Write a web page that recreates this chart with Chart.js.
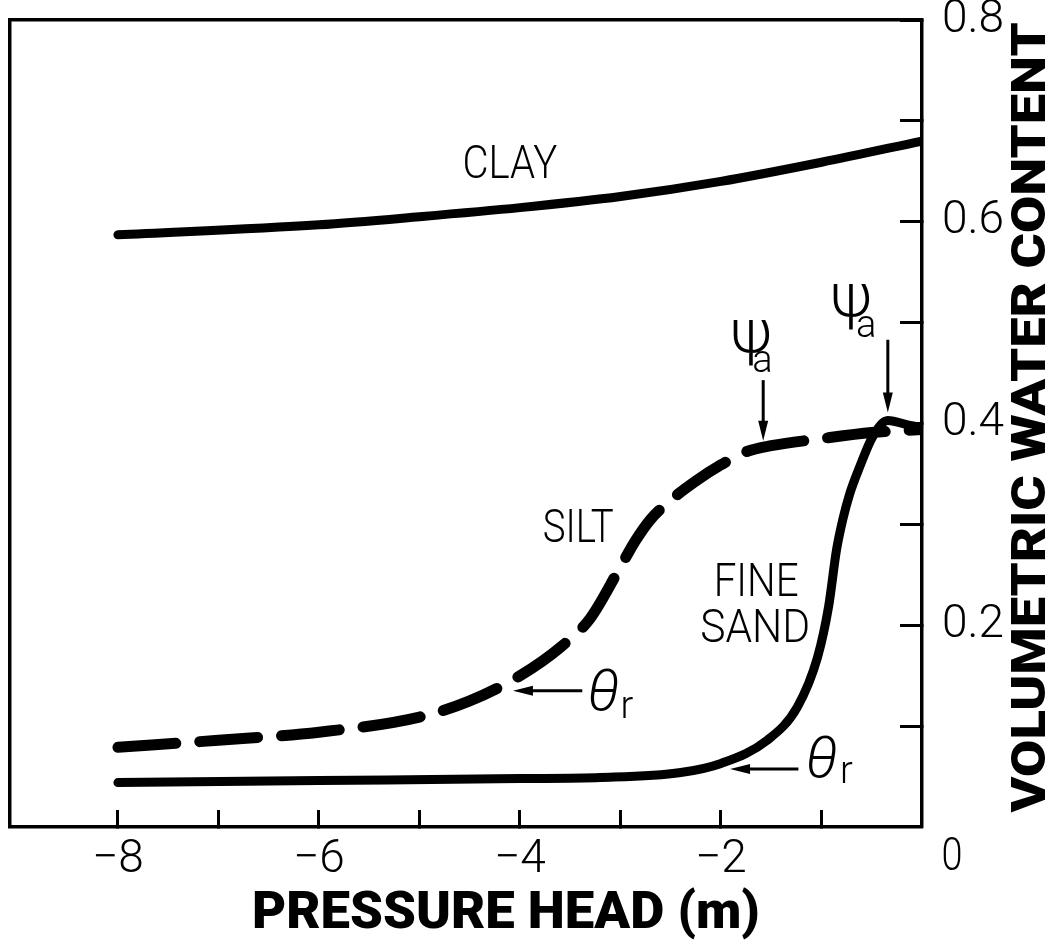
<!DOCTYPE html>
<html>
<head>
<meta charset="utf-8">
<title>Moisture retention curves</title>
<script src="https://cdn.jsdelivr.net/npm/chart.js@4.4.1/dist/chart.umd.min.js"></script>
<style>
  html, body { margin: 0; padding: 0; background: #fff; }
</style>
</head>
<body>
<canvas id="curves" width="1055" height="947"></canvas>
<script>
// pressure head (m) and volumetric water content
const clayHead = [-8, -6, -5, -4, -3, -2, -1, 0];
const clayTheta = [0.587, 0.597, 0.605, 0.614, 0.625, 0.640, 0.659, 0.680];

const siltHead = [-8, -7, -6, -5, -4.5, -4, -3.6, -3.3, -3, -2.85, -2.7, -2.5, -2.25, -2, -1.75, -1.5, -1, -0.5, 0];
const siltTheta = [0.079, 0.086, 0.094, 0.109, 0.125, 0.150, 0.178, 0.207, 0.258, 0.284, 0.305, 0.324, 0.343, 0.359, 0.372, 0.378, 0.385, 0.391, 0.394];

const sandHead = [-8, -6, -4, -3.2, -2.4, -2.0, -1.54, -1.24, -1.04, -0.93, -0.85, -0.79, -0.72, -0.62, -0.49, -0.34, -0.12, 0];
const sandTheta = [0.044, 0.046, 0.048, 0.049, 0.054, 0.063, 0.086, 0.119, 0.168, 0.218, 0.275, 0.304, 0.330, 0.357, 0.387, 0.403, 0.398, 0.396];

const xTickValues = [-8, -7, -6, -5, -4, -3, -2, -1];
const xTickLabels = ['−8', '', '−6', '', '−4', '', '−2', ''];
const yTickValues = [0.1, 0.2, 0.3, 0.4, 0.5, 0.6, 0.7, 0.8];
const yTickLabels = ['', '0.2', '', '0.4', '', '0.6', '', '0.8'];
const cornerLabel = '0';

const xTitle = 'PRESSURE HEAD (m)';
const yTitle = 'VOLUMETRIC WATER CONTENT';

const INK = '#000';
const LIGHT = '"Roboto", "Liberation Sans", sans-serif';
const HEAVY = '"Roboto", "DejaVu Sans", sans-serif';

function toPoints(xs, ys) {
  return xs.map((x, i) => ({ x: x, y: ys[i] }));
}

// draws a thin line ending in a filled arrow head at (x2, y2)
function drawArrow(ctx, x1, y1, x2, y2) {
  const a = Math.atan2(y2 - y1, x2 - x1);
  const len = 20, half = 5;
  ctx.lineWidth = 3;
  ctx.beginPath();
  ctx.moveTo(x1, y1);
  ctx.lineTo(x2 - len * 0.7 * Math.cos(a), y2 - len * 0.7 * Math.sin(a));
  ctx.stroke();
  ctx.beginPath();
  ctx.moveTo(x2, y2);
  ctx.lineTo(x2 - len * Math.cos(a) + half * Math.sin(a), y2 - len * Math.sin(a) - half * Math.cos(a));
  ctx.lineTo(x2 - len * Math.cos(a) - half * Math.sin(a), y2 - len * Math.sin(a) + half * Math.cos(a));
  ctx.closePath();
  ctx.fill();
}

// fill text stretched or squeezed to a given length
function fillFitted(ctx, text, x, y, length) {
  const w = ctx.measureText(text).width;
  ctx.save();
  ctx.translate(x, y);
  ctx.scale(length / w, 1);
  ctx.fillText(text, 0, 0);
  ctx.restore();
}

const notesPlugin = {
  id: 'curveNotes',
  afterDraw(chart) {
    const { ctx, chartArea } = chart;
    const px = v => chart.scales.x.getPixelForValue(v);
    const py = v => chart.scales.y.getPixelForValue(v);

    ctx.save();
    ctx.fillStyle = INK;
    ctx.strokeStyle = INK;

    // curve names
    ctx.font = '300 46px ' + LIGHT;
    ctx.textAlign = 'center';
    ctx.textBaseline = 'middle';
    fillFitted(ctx, 'CLAY', px(-4.10), py(0.655), 95);
    fillFitted(ctx, 'SILT', px(-3.42), py(0.294), 71);
    fillFitted(ctx, 'FINE', px(-1.65), py(0.240), 85);
    fillFitted(ctx, 'SAND', px(-1.66), py(0.195), 110);

    // residual water content marks
    ctx.textAlign = 'left';
    ctx.textBaseline = 'alphabetic';
    drawArrow(ctx, px(-3.38), py(0.135), px(-4.07), py(0.135));
    drawArrow(ctx, px(-1.23), py(0.0575), px(-1.91), py(0.0575));
    ctx.font = 'italic 300 58px ' + LIGHT;
    ctx.fillText('θ', px(-3.33), py(0.116));
    ctx.fillText('θ', px(-1.16), py(0.0496));
    ctx.font = '300 38px ' + LIGHT;
    ctx.fillText('r', px(-3.00), py(0.108));
    ctx.fillText('r', px(-0.816), py(0.0436));

    // air entry pressure marks
    drawArrow(ctx, px(-1.58), py(0.443), px(-1.58), py(0.383));
    drawArrow(ctx, px(-0.34), py(0.483), px(-0.34), py(0.411));
    ctx.font = '300 62px ' + LIGHT;
    ctx.fillText('ψ', px(-1.91), py(0.471));
    ctx.fillText('ψ', px(-0.916), py(0.507));
    ctx.font = '300 38px ' + LIGHT;
    ctx.fillText('a', px(-1.69), py(0.451));
    ctx.fillText('a', px(-0.657), py(0.486));

    // shared zero at the corner
    ctx.font = '300 46px ' + LIGHT;
    ctx.textAlign = 'center';
    ctx.textBaseline = 'middle';
    fillFitted(ctx, cornerLabel, chartArea.right + 30, chartArea.bottom + 31, 21);

    // axis titles
    ctx.font = '900 52px ' + HEAVY;
    fillFitted(ctx, xTitle, px(-4.14), chartArea.bottom + 88, 508);
    ctx.translate(chartArea.right + 111, py(0.406));
    ctx.rotate(-Math.PI / 2);
    ctx.font = '900 48px ' + HEAVY;
    fillFitted(ctx, yTitle, 0, 0, 790);
    ctx.restore();
  }
};

const tickFont = { family: LIGHT, size: 46, weight: 300 };

function dropPadding(scale) {
  scale.paddingTop = 0;
  scale.paddingBottom = 0;
  scale.paddingLeft = 0;
  scale.paddingRight = 0;
}

new Chart(document.getElementById('curves'), {
  type: 'line',
  data: {
    datasets: [
      {
        label: 'CLAY',
        data: toPoints(clayHead, clayTheta),
        borderColor: INK,
        borderWidth: 9,
        borderCapStyle: 'round',
        cubicInterpolationMode: 'monotone',
        pointRadius: 0,
      },
      {
        label: 'SILT',
        data: toPoints(siltHead, siltTheta),
        borderColor: INK,
        borderWidth: 11,
        borderDash: [58, 24],
        borderCapStyle: 'round',
        cubicInterpolationMode: 'monotone',
        pointRadius: 0,
      },
      {
        label: 'FINE SAND',
        data: toPoints(sandHead, sandTheta),
        borderColor: INK,
        borderWidth: 9,
        borderCapStyle: 'round',
        cubicInterpolationMode: 'monotone',
        pointRadius: 0,
      },
    ],
  },
  options: {
    responsive: false,
    animation: false,
    events: [],
    layout: { padding: { left: 10, top: 20, right: 0, bottom: 0 } },
    plugins: { legend: { display: false }, tooltip: { enabled: false } },
    scales: {
      x: {
        type: 'linear',
        position: 'bottom',
        min: -9.074,
        max: 0,
        afterBuildTicks: (scale) => { scale.ticks = xTickValues.map(v => ({ value: v })); },
        afterFit: (scale) => { scale.height = 120; dropPadding(scale); },
        ticks: {
          callback: (value) => xTickLabels[xTickValues.indexOf(value)],
          autoSkip: false,
          maxRotation: 0,
          padding: 23,
          color: INK,
          font: tickFont,
        },
        grid: { drawOnChartArea: false, tickLength: -17, tickWidth: 3, color: INK },
        border: { display: true, width: 3.5, color: INK },
      },
      y: {
        type: 'linear',
        position: 'right',
        min: 0,
        max: 0.8,
        afterBuildTicks: (scale) => { scale.ticks = yTickValues.map(v => ({ value: v })); },
        afterFit: (scale) => { scale.width = 133; dropPadding(scale); },
        ticks: {
          callback: (value) => yTickLabels[yTickValues.indexOf(value)],
          autoSkip: false,
          crossAlign: 'near',
          padding: 42,
          color: INK,
          font: tickFont,
        },
        grid: { drawOnChartArea: false, tickLength: -22, tickWidth: 3, color: INK },
        border: { display: true, width: 3.5, color: INK },
      },
      // top and left edges of the frame
      x2: {
        type: 'linear',
        position: 'top',
        ticks: { display: false },
        grid: { drawOnChartArea: false, drawTicks: false },
        border: { display: true, width: 3.5, color: INK },
        afterFit: (scale) => { scale.height = 0; dropPadding(scale); },
      },
      y2: {
        type: 'linear',
        position: 'left',
        ticks: { display: false },
        grid: { drawOnChartArea: false, drawTicks: false },
        border: { display: true, width: 3.5, color: INK },
        afterFit: (scale) => { scale.width = 0; dropPadding(scale); },
      },
    },
  },
  plugins: [notesPlugin],
});
</script>
</body>
</html>
